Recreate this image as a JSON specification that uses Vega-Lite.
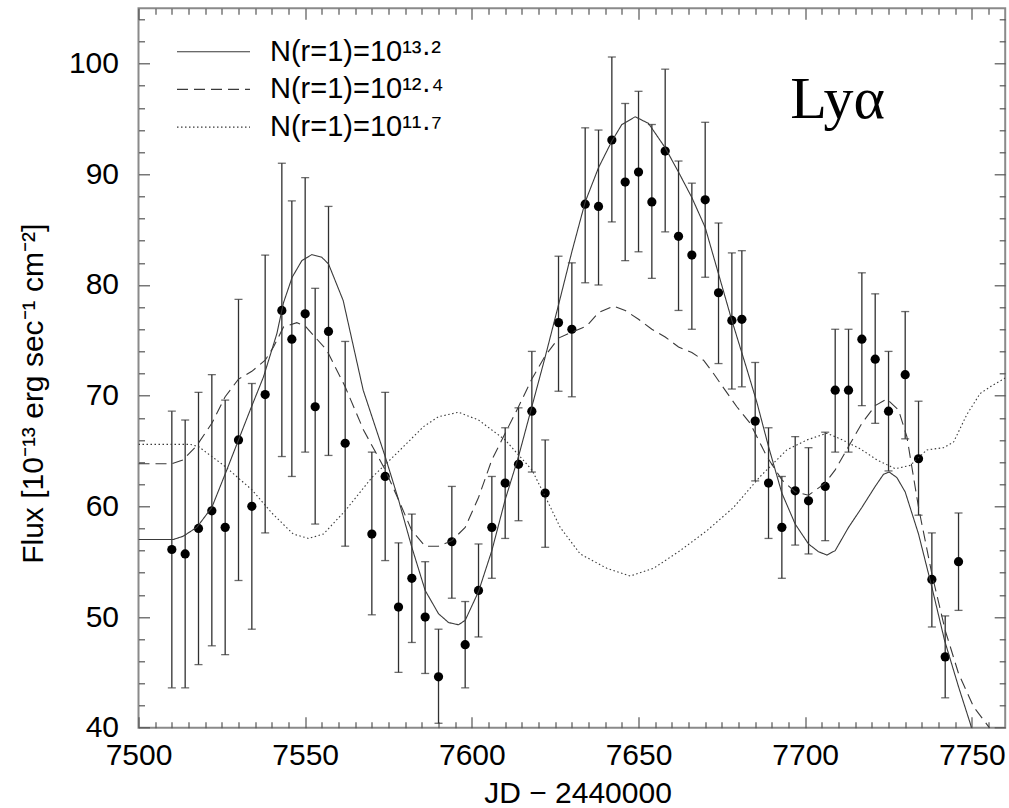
{
  "$schema": "https://vega.github.io/schema/vega-lite/v6.json",
  "autosize": {"type": "none"},
  "width": 866.7,
  "height": 719.4,
  "padding": {"left": 138.5, "top": 8.3, "right": 3.8, "bottom": 80.3},
  "background": "white",
  "config": {
    "font": "Liberation Sans",
    "view": {"stroke": "#8a8a8a", "strokeWidth": 2},
    "axis": {"grid": false, "domain": false, "tickColor": "#555555", "tickWidth": 1.2, "labelColor": "black", "labelFont": "Liberation Sans", "labelFontSize": 30, "titleFont": "Liberation Sans", "titleFontSize": 30, "titleFontWeight": "normal", "titleColor": "black"}
  },
  "datasets": {
    "obs": [
      {"x": 7510, "y": 56.1, "lo": 43.6, "hi": 68.6},
      {"x": 7514, "y": 55.7, "lo": 43.6, "hi": 67.8},
      {"x": 7518, "y": 58.0, "lo": 45.7, "hi": 70.3},
      {"x": 7522, "y": 59.6, "lo": 47.4, "hi": 71.9},
      {"x": 7526, "y": 58.1, "lo": 46.6, "hi": 69.6},
      {"x": 7530, "y": 66.0, "lo": 53.3, "hi": 78.7},
      {"x": 7534, "y": 60.0, "lo": 48.9, "hi": 71.1},
      {"x": 7538, "y": 70.1, "lo": 57.6, "hi": 82.7},
      {"x": 7543, "y": 77.7, "lo": 64.5, "hi": 91.0},
      {"x": 7546, "y": 75.1, "lo": 62.7, "hi": 87.6},
      {"x": 7550, "y": 77.4, "lo": 64.9, "hi": 89.7},
      {"x": 7553, "y": 69.0, "lo": 58.4, "hi": 79.7},
      {"x": 7557, "y": 75.8, "lo": 64.6, "hi": 87.1},
      {"x": 7562, "y": 65.7, "lo": 56.4, "hi": 74.9},
      {"x": 7570, "y": 57.5, "lo": 50.2, "hi": 64.9},
      {"x": 7574, "y": 62.7, "lo": 55.1, "hi": 70.3},
      {"x": 7578, "y": 50.9, "lo": 45.0, "hi": 56.7},
      {"x": 7582, "y": 53.5, "lo": 47.7, "hi": 59.3},
      {"x": 7586, "y": 50.0, "lo": 44.9, "hi": 55.0},
      {"x": 7590, "y": 44.6, "lo": 40.4, "hi": 48.9},
      {"x": 7594, "y": 56.8, "lo": 51.7, "hi": 61.8},
      {"x": 7598, "y": 47.5, "lo": 43.6, "hi": 51.4},
      {"x": 7602, "y": 52.4, "lo": 48.2, "hi": 56.6},
      {"x": 7606, "y": 58.1, "lo": 53.5, "hi": 62.7},
      {"x": 7610, "y": 62.1, "lo": 57.1, "hi": 67.1},
      {"x": 7614, "y": 63.8, "lo": 58.7, "hi": 68.9},
      {"x": 7618, "y": 68.6, "lo": 63.1, "hi": 74.0},
      {"x": 7622, "y": 61.2, "lo": 56.3, "hi": 66.0},
      {"x": 7626, "y": 76.6, "lo": 70.4, "hi": 82.6},
      {"x": 7630, "y": 76.0, "lo": 69.9, "hi": 82.0},
      {"x": 7634, "y": 87.3, "lo": 80.2, "hi": 94.2},
      {"x": 7638, "y": 87.1, "lo": 80.0, "hi": 94.0},
      {"x": 7642, "y": 93.1, "lo": 85.7, "hi": 100.6},
      {"x": 7646, "y": 89.3, "lo": 82.2, "hi": 96.4},
      {"x": 7650, "y": 90.2, "lo": 83.0, "hi": 97.5},
      {"x": 7654, "y": 87.5, "lo": 80.6, "hi": 94.5},
      {"x": 7658, "y": 92.1, "lo": 84.8, "hi": 99.5},
      {"x": 7662, "y": 84.4, "lo": 77.7, "hi": 91.2},
      {"x": 7666, "y": 82.7, "lo": 76.0, "hi": 89.2},
      {"x": 7670, "y": 87.7, "lo": 80.7, "hi": 94.7},
      {"x": 7674, "y": 79.3, "lo": 72.9, "hi": 85.6},
      {"x": 7678, "y": 76.8, "lo": 70.6, "hi": 82.9},
      {"x": 7681, "y": 76.9, "lo": 70.8, "hi": 83.1},
      {"x": 7685, "y": 67.7, "lo": 62.3, "hi": 73.0},
      {"x": 7689, "y": 62.1, "lo": 57.1, "hi": 67.1},
      {"x": 7693, "y": 58.1, "lo": 53.5, "hi": 62.7},
      {"x": 7697, "y": 61.4, "lo": 56.5, "hi": 66.3},
      {"x": 7701, "y": 60.5, "lo": 55.7, "hi": 65.3},
      {"x": 7706, "y": 61.8, "lo": 56.9, "hi": 66.7},
      {"x": 7709, "y": 70.5, "lo": 64.9, "hi": 76.0},
      {"x": 7713, "y": 70.5, "lo": 64.9, "hi": 76.0},
      {"x": 7717, "y": 75.1, "lo": 69.1, "hi": 81.1},
      {"x": 7721, "y": 73.3, "lo": 67.5, "hi": 79.2},
      {"x": 7725, "y": 68.6, "lo": 63.2, "hi": 74.0},
      {"x": 7730, "y": 71.9, "lo": 66.1, "hi": 77.6},
      {"x": 7734, "y": 64.3, "lo": 59.2, "hi": 69.5},
      {"x": 7738, "y": 53.4, "lo": 49.1, "hi": 57.6},
      {"x": 7742, "y": 46.4, "lo": 42.7, "hi": 50.1},
      {"x": 7746, "y": 55.0, "lo": 50.6, "hi": 59.4}
    ],
    "models": [
      {"s": "N(r=1)=10¹³·²", "x": 7500, "y": 57.0},
      {"s": "N(r=1)=10¹³·²", "x": 7510.4, "y": 57.0},
      {"s": "N(r=1)=10¹³·²", "x": 7513.4, "y": 57.3},
      {"s": "N(r=1)=10¹³·²", "x": 7517.5, "y": 58.1},
      {"s": "N(r=1)=10¹³·²", "x": 7522, "y": 59.9},
      {"s": "N(r=1)=10¹³·²", "x": 7526.5, "y": 63.3},
      {"s": "N(r=1)=10¹³·²", "x": 7530, "y": 66.0},
      {"s": "N(r=1)=10¹³·²", "x": 7533.5, "y": 68.7},
      {"s": "N(r=1)=10¹³·²", "x": 7537.5, "y": 71.7},
      {"s": "N(r=1)=10¹³·²", "x": 7541.5, "y": 75.6},
      {"s": "N(r=1)=10¹³·²", "x": 7543.5, "y": 78.4},
      {"s": "N(r=1)=10¹³·²", "x": 7546.1, "y": 80.7},
      {"s": "N(r=1)=10¹³·²", "x": 7549, "y": 82.2},
      {"s": "N(r=1)=10¹³·²", "x": 7552, "y": 82.75},
      {"s": "N(r=1)=10¹³·²", "x": 7555, "y": 82.5},
      {"s": "N(r=1)=10¹³·²", "x": 7557, "y": 81.9},
      {"s": "N(r=1)=10¹³·²", "x": 7561.4, "y": 78.6},
      {"s": "N(r=1)=10¹³·²", "x": 7567.4, "y": 70.5},
      {"s": "N(r=1)=10¹³·²", "x": 7574, "y": 64.5},
      {"s": "N(r=1)=10¹³·²", "x": 7578, "y": 60.6},
      {"s": "N(r=1)=10¹³·²", "x": 7582, "y": 56.3},
      {"s": "N(r=1)=10¹³·²", "x": 7586, "y": 52.4},
      {"s": "N(r=1)=10¹³·²", "x": 7590, "y": 50.3},
      {"s": "N(r=1)=10¹³·²", "x": 7593, "y": 49.5},
      {"s": "N(r=1)=10¹³·²", "x": 7596, "y": 49.3},
      {"s": "N(r=1)=10¹³·²", "x": 7598, "y": 49.7},
      {"s": "N(r=1)=10¹³·²", "x": 7602, "y": 52.3},
      {"s": "N(r=1)=10¹³·²", "x": 7606, "y": 56.0},
      {"s": "N(r=1)=10¹³·²", "x": 7610, "y": 60.6},
      {"s": "N(r=1)=10¹³·²", "x": 7614, "y": 64.5},
      {"s": "N(r=1)=10¹³·²", "x": 7618, "y": 69.0},
      {"s": "N(r=1)=10¹³·²", "x": 7622, "y": 73.5},
      {"s": "N(r=1)=10¹³·²", "x": 7626, "y": 78.2},
      {"s": "N(r=1)=10¹³·²", "x": 7630, "y": 83.0},
      {"s": "N(r=1)=10¹³·²", "x": 7634, "y": 87.5},
      {"s": "N(r=1)=10¹³·²", "x": 7638, "y": 90.6},
      {"s": "N(r=1)=10¹³·²", "x": 7642, "y": 93.0},
      {"s": "N(r=1)=10¹³·²", "x": 7645, "y": 94.5},
      {"s": "N(r=1)=10¹³·²", "x": 7649, "y": 95.2},
      {"s": "N(r=1)=10¹³·²", "x": 7653, "y": 94.6},
      {"s": "N(r=1)=10¹³·²", "x": 7658, "y": 92.4},
      {"s": "N(r=1)=10¹³·²", "x": 7662, "y": 90.2},
      {"s": "N(r=1)=10¹³·²", "x": 7666, "y": 87.9},
      {"s": "N(r=1)=10¹³·²", "x": 7670, "y": 85.2},
      {"s": "N(r=1)=10¹³·²", "x": 7674, "y": 81.0},
      {"s": "N(r=1)=10¹³·²", "x": 7678, "y": 76.8},
      {"s": "N(r=1)=10¹³·²", "x": 7682.5, "y": 72.4},
      {"s": "N(r=1)=10¹³·²", "x": 7685.5, "y": 69.4},
      {"s": "N(r=1)=10¹³·²", "x": 7689, "y": 65.4},
      {"s": "N(r=1)=10¹³·²", "x": 7693, "y": 61.2},
      {"s": "N(r=1)=10¹³·²", "x": 7697, "y": 58.4},
      {"s": "N(r=1)=10¹³·²", "x": 7701, "y": 56.6},
      {"s": "N(r=1)=10¹³·²", "x": 7704, "y": 55.9},
      {"s": "N(r=1)=10¹³·²", "x": 7706.5, "y": 55.6},
      {"s": "N(r=1)=10¹³·²", "x": 7709, "y": 56.0},
      {"s": "N(r=1)=10¹³·²", "x": 7713, "y": 58.1},
      {"s": "N(r=1)=10¹³·²", "x": 7717, "y": 59.9},
      {"s": "N(r=1)=10¹³·²", "x": 7721, "y": 61.8},
      {"s": "N(r=1)=10¹³·²", "x": 7723.5, "y": 62.9},
      {"s": "N(r=1)=10¹³·²", "x": 7725.2, "y": 63.1},
      {"s": "N(r=1)=10¹³·²", "x": 7727.5, "y": 62.6},
      {"s": "N(r=1)=10¹³·²", "x": 7730, "y": 61.3},
      {"s": "N(r=1)=10¹³·²", "x": 7734, "y": 57.5},
      {"s": "N(r=1)=10¹³·²", "x": 7738, "y": 52.7},
      {"s": "N(r=1)=10¹³·²", "x": 7741.8, "y": 47.9},
      {"s": "N(r=1)=10¹³·²", "x": 7746, "y": 43.7},
      {"s": "N(r=1)=10¹³·²", "x": 7749.5, "y": 40.4},
      {"s": "N(r=1)=10¹³·²", "x": 7751, "y": 38.8},
      {"s": "N(r=1)=10¹²·⁴", "x": 7500, "y": 63.85},
      {"s": "N(r=1)=10¹²·⁴", "x": 7510, "y": 63.85},
      {"s": "N(r=1)=10¹²·⁴", "x": 7513.4, "y": 64.2},
      {"s": "N(r=1)=10¹²·⁴", "x": 7517.5, "y": 65.5},
      {"s": "N(r=1)=10¹²·⁴", "x": 7522, "y": 67.5},
      {"s": "N(r=1)=10¹²·⁴", "x": 7526, "y": 69.9},
      {"s": "N(r=1)=10¹²·⁴", "x": 7530, "y": 71.5},
      {"s": "N(r=1)=10¹²·⁴", "x": 7534, "y": 72.2},
      {"s": "N(r=1)=10¹²·⁴", "x": 7538, "y": 73.2},
      {"s": "N(r=1)=10¹²·⁴", "x": 7540.5, "y": 74.4},
      {"s": "N(r=1)=10¹²·⁴", "x": 7543.5, "y": 76.2},
      {"s": "N(r=1)=10¹²·⁴", "x": 7547.5, "y": 76.6},
      {"s": "N(r=1)=10¹²·⁴", "x": 7550, "y": 76.3},
      {"s": "N(r=1)=10¹²·⁴", "x": 7556.5, "y": 74.1},
      {"s": "N(r=1)=10¹²·⁴", "x": 7562, "y": 70.8},
      {"s": "N(r=1)=10¹²·⁴", "x": 7567.5, "y": 66.9},
      {"s": "N(r=1)=10¹²·⁴", "x": 7574, "y": 63.3},
      {"s": "N(r=1)=10¹²·⁴", "x": 7578, "y": 60.6},
      {"s": "N(r=1)=10¹²·⁴", "x": 7582, "y": 57.8},
      {"s": "N(r=1)=10¹²·⁴", "x": 7586, "y": 56.4},
      {"s": "N(r=1)=10¹²·⁴", "x": 7590, "y": 56.4},
      {"s": "N(r=1)=10¹²·⁴", "x": 7594, "y": 56.9},
      {"s": "N(r=1)=10¹²·⁴", "x": 7598, "y": 58.1},
      {"s": "N(r=1)=10¹²·⁴", "x": 7602, "y": 60.8},
      {"s": "N(r=1)=10¹²·⁴", "x": 7606, "y": 64.2},
      {"s": "N(r=1)=10¹²·⁴", "x": 7610, "y": 66.6},
      {"s": "N(r=1)=10¹²·⁴", "x": 7614, "y": 69.0},
      {"s": "N(r=1)=10¹²·⁴", "x": 7618, "y": 71.5},
      {"s": "N(r=1)=10¹²·⁴", "x": 7622, "y": 73.6},
      {"s": "N(r=1)=10¹²·⁴", "x": 7626, "y": 75.2},
      {"s": "N(r=1)=10¹²·⁴", "x": 7630.5, "y": 75.8},
      {"s": "N(r=1)=10¹²·⁴", "x": 7634.5, "y": 76.3},
      {"s": "N(r=1)=10¹²·⁴", "x": 7638, "y": 77.5},
      {"s": "N(r=1)=10¹²·⁴", "x": 7642.5, "y": 78.1},
      {"s": "N(r=1)=10¹²·⁴", "x": 7646, "y": 77.7},
      {"s": "N(r=1)=10¹²·⁴", "x": 7650, "y": 76.9},
      {"s": "N(r=1)=10¹²·⁴", "x": 7654, "y": 76.0},
      {"s": "N(r=1)=10¹²·⁴", "x": 7658, "y": 75.3},
      {"s": "N(r=1)=10¹²·⁴", "x": 7662, "y": 74.4},
      {"s": "N(r=1)=10¹²·⁴", "x": 7666, "y": 73.9},
      {"s": "N(r=1)=10¹²·⁴", "x": 7669.5, "y": 73.2},
      {"s": "N(r=1)=10¹²·⁴", "x": 7672.5, "y": 72.0},
      {"s": "N(r=1)=10¹²·⁴", "x": 7675.5, "y": 70.7},
      {"s": "N(r=1)=10¹²·⁴", "x": 7679.5, "y": 69.0},
      {"s": "N(r=1)=10¹²·⁴", "x": 7683.5, "y": 67.5},
      {"s": "N(r=1)=10¹²·⁴", "x": 7688.5, "y": 64.5},
      {"s": "N(r=1)=10¹²·⁴", "x": 7693, "y": 62.4},
      {"s": "N(r=1)=10¹²·⁴", "x": 7697, "y": 61.3},
      {"s": "N(r=1)=10¹²·⁴", "x": 7701, "y": 61.0},
      {"s": "N(r=1)=10¹²·⁴", "x": 7706, "y": 62.1},
      {"s": "N(r=1)=10¹²·⁴", "x": 7709, "y": 63.3},
      {"s": "N(r=1)=10¹²·⁴", "x": 7713, "y": 65.4},
      {"s": "N(r=1)=10¹²·⁴", "x": 7717, "y": 67.5},
      {"s": "N(r=1)=10¹²·⁴", "x": 7721, "y": 69.1},
      {"s": "N(r=1)=10¹²·⁴", "x": 7724.5, "y": 69.7},
      {"s": "N(r=1)=10¹²·⁴", "x": 7728, "y": 68.7},
      {"s": "N(r=1)=10¹²·⁴", "x": 7730.5, "y": 66.3},
      {"s": "N(r=1)=10¹²·⁴", "x": 7734, "y": 59.9},
      {"s": "N(r=1)=10¹²·⁴", "x": 7738, "y": 53.9},
      {"s": "N(r=1)=10¹²·⁴", "x": 7742, "y": 48.8},
      {"s": "N(r=1)=10¹²·⁴", "x": 7746, "y": 44.9},
      {"s": "N(r=1)=10¹²·⁴", "x": 7750.5, "y": 41.9},
      {"s": "N(r=1)=10¹²·⁴", "x": 7755, "y": 40.1},
      {"s": "N(r=1)=10¹²·⁴", "x": 7757, "y": 39.3},
      {"s": "N(r=1)=10¹¹·⁷", "x": 7500, "y": 65.6},
      {"s": "N(r=1)=10¹¹·⁷", "x": 7515.5, "y": 65.6},
      {"s": "N(r=1)=10¹¹·⁷", "x": 7518, "y": 65.4},
      {"s": "N(r=1)=10¹¹·⁷", "x": 7526, "y": 63.6},
      {"s": "N(r=1)=10¹¹·⁷", "x": 7534, "y": 61.5},
      {"s": "N(r=1)=10¹¹·⁷", "x": 7540, "y": 59.4},
      {"s": "N(r=1)=10¹¹·⁷", "x": 7546.4, "y": 57.5},
      {"s": "N(r=1)=10¹¹·⁷", "x": 7551, "y": 57.1},
      {"s": "N(r=1)=10¹¹·⁷", "x": 7555.5, "y": 57.5},
      {"s": "N(r=1)=10¹¹·⁷", "x": 7562, "y": 59.6},
      {"s": "N(r=1)=10¹¹·⁷", "x": 7570, "y": 62.6},
      {"s": "N(r=1)=10¹¹·⁷", "x": 7577.5, "y": 64.8},
      {"s": "N(r=1)=10¹¹·⁷", "x": 7585.5, "y": 67.2},
      {"s": "N(r=1)=10¹¹·⁷", "x": 7590, "y": 68.1},
      {"s": "N(r=1)=10¹¹·⁷", "x": 7596, "y": 68.5},
      {"s": "N(r=1)=10¹¹·⁷", "x": 7602, "y": 67.8},
      {"s": "N(r=1)=10¹¹·⁷", "x": 7610, "y": 66.0},
      {"s": "N(r=1)=10¹¹·⁷", "x": 7618, "y": 63.3},
      {"s": "N(r=1)=10¹¹·⁷", "x": 7622, "y": 60.9},
      {"s": "N(r=1)=10¹¹·⁷", "x": 7626.5, "y": 58.1},
      {"s": "N(r=1)=10¹¹·⁷", "x": 7632.5, "y": 55.7},
      {"s": "N(r=1)=10¹¹·⁷", "x": 7640.5, "y": 54.4},
      {"s": "N(r=1)=10¹¹·⁷", "x": 7647.5, "y": 53.7},
      {"s": "N(r=1)=10¹¹·⁷", "x": 7654.5, "y": 54.4},
      {"s": "N(r=1)=10¹¹·⁷", "x": 7662.5, "y": 56.0},
      {"s": "N(r=1)=10¹¹·⁷", "x": 7670.5, "y": 57.8},
      {"s": "N(r=1)=10¹¹·⁷", "x": 7678.5, "y": 59.9},
      {"s": "N(r=1)=10¹¹·⁷", "x": 7686.5, "y": 62.7},
      {"s": "N(r=1)=10¹¹·⁷", "x": 7694.5, "y": 65.1},
      {"s": "N(r=1)=10¹¹·⁷", "x": 7700.5, "y": 66.0},
      {"s": "N(r=1)=10¹¹·⁷", "x": 7706.5, "y": 66.6},
      {"s": "N(r=1)=10¹¹·⁷", "x": 7710.5, "y": 66.1},
      {"s": "N(r=1)=10¹¹·⁷", "x": 7716.5, "y": 65.2},
      {"s": "N(r=1)=10¹¹·⁷", "x": 7721.5, "y": 64.2},
      {"s": "N(r=1)=10¹¹·⁷", "x": 7727, "y": 63.4},
      {"s": "N(r=1)=10¹¹·⁷", "x": 7731.5, "y": 63.7},
      {"s": "N(r=1)=10¹¹·⁷", "x": 7736.5, "y": 65.1},
      {"s": "N(r=1)=10¹¹·⁷", "x": 7741.5, "y": 65.3},
      {"s": "N(r=1)=10¹¹·⁷", "x": 7744.5, "y": 65.8},
      {"s": "N(r=1)=10¹¹·⁷", "x": 7748.5, "y": 68.3},
      {"s": "N(r=1)=10¹¹·⁷", "x": 7752.5, "y": 70.2},
      {"s": "N(r=1)=10¹¹·⁷", "x": 7756, "y": 70.9},
      {"s": "N(r=1)=10¹¹·⁷", "x": 7760, "y": 71.6}
    ],
    "note": [{"label": "Lyα"}]
  },
  "resolve": {"axis": {"x": "independent", "y": "independent"}},
  "layer": [
    {
      "data": {"name": "obs"},
      "mark": {"type": "rule", "color": "#303030", "strokeWidth": 1.3},
      "encoding": {
        "x": {"field": "x", "type": "quantitative", "scale": {"domain": [7500, 7760], "nice": false, "zero": false},
          "axis": {"orient": "bottom", "values": [7500, 7550, 7600, 7650, 7700, 7750], "format": "d", "ticks": false, "labelPadding": 13, "labelFlush": false, "labelOverlap": false, "title": "JD − 2440000", "titleX": 439, "titleY": 74.5, "titleAlign": "center", "titleBaseline": "alphabetic"}},
        "y": {"field": "lo", "type": "quantitative", "scale": {"domain": [40, 105], "nice": false, "zero": false},
          "axis": {"orient": "left", "values": [40, 50, 60, 70, 80, 90, 100], "format": "d", "ticks": false, "labelPadding": 20, "labelFlush": false, "labelOverlap": false, "title": "Flux [10⁻¹³ erg sec⁻¹ cm⁻²]", "titleAngle": 270, "titleX": -96, "titleY": 385, "titleAlign": "center", "titleBaseline": "alphabetic"}},
        "y2": {"field": "hi"}
      }
    },
    {
      "data": {"name": "obs"},
      "mark": {"type": "tick", "orient": "horizontal", "color": "#303030", "size": 8, "thickness": 1.3},
      "encoding": {
        "x": {"field": "x", "type": "quantitative", "axis": {"orient": "bottom", "values": [7500, 7550, 7600, 7650, 7700, 7750], "labels": false, "offset": -11, "tickSize": 11, "title": null}},
        "y": {"field": "lo", "type": "quantitative", "axis": {"orient": "left", "values": [40, 50, 60, 70, 80, 90, 100], "labels": false, "offset": -11, "tickSize": 11, "title": null}}
      }
    },
    {
      "data": {"name": "obs"},
      "mark": {"type": "tick", "orient": "horizontal", "color": "#303030", "size": 8, "thickness": 1.3},
      "encoding": {
        "x": {"field": "x", "type": "quantitative", "axis": {"orient": "bottom", "values": [7505, 7510, 7515, 7520, 7525, 7530, 7535, 7540, 7545, 7555, 7560, 7565, 7570, 7575, 7580, 7585, 7590, 7595, 7605, 7610, 7615, 7620, 7625, 7630, 7635, 7640, 7645, 7655, 7660, 7665, 7670, 7675, 7680, 7685, 7690, 7695, 7705, 7710, 7715, 7720, 7725, 7730, 7735, 7740, 7745, 7755], "labels": false, "offset": -6, "tickSize": 6, "title": null}},
        "y": {"field": "hi", "type": "quantitative", "axis": {"orient": "left", "values": [42, 44, 46, 48, 52, 54, 56, 58, 62, 64, 66, 68, 72, 74, 76, 78, 82, 84, 86, 88, 92, 94, 96, 98, 102, 104], "labels": false, "offset": -6, "tickSize": 6, "title": null}}
      }
    },
    {
      "data": {"name": "obs"},
      "mark": {"type": "circle", "color": "black", "opacity": 1, "size": 85},
      "encoding": {
        "x": {"field": "x", "type": "quantitative", "axis": {"orient": "top", "values": [7500, 7550, 7600, 7650, 7700, 7750], "labels": false, "offset": -11, "tickSize": 11, "title": null}},
        "y": {"field": "y", "type": "quantitative", "axis": {"orient": "right", "values": [40, 50, 60, 70, 80, 90, 100], "labels": false, "offset": -11, "tickSize": 11, "title": null}}
      }
    },
    {
      "data": {"name": "models"},
      "mark": {"type": "line", "color": "#3a3a3a", "strokeWidth": 1.1, "clip": true},
      "encoding": {
        "x": {"field": "x", "type": "quantitative", "axis": {"orient": "top", "values": [7505, 7510, 7515, 7520, 7525, 7530, 7535, 7540, 7545, 7555, 7560, 7565, 7570, 7575, 7580, 7585, 7590, 7595, 7605, 7610, 7615, 7620, 7625, 7630, 7635, 7640, 7645, 7655, 7660, 7665, 7670, 7675, 7680, 7685, 7690, 7695, 7705, 7710, 7715, 7720, 7725, 7730, 7735, 7740, 7745, 7755], "labels": false, "offset": -6, "tickSize": 6, "title": null}},
        "y": {"field": "y", "type": "quantitative", "axis": {"orient": "right", "values": [42, 44, 46, 48, 52, 54, 56, 58, 62, 64, 66, 68, 72, 74, 76, 78, 82, 84, 86, 88, 92, 94, 96, 98, 102, 104], "labels": false, "offset": -6, "tickSize": 6, "title": null}},
        "strokeDash": {"field": "s", "type": "nominal",
          "scale": {"domain": ["N(r=1)=10¹³·²", "N(r=1)=10¹²·⁴", "N(r=1)=10¹¹·⁷"], "range": [[1, 0], [11, 6], [1.5, 2.5]]},
          "legend": {"title": null, "orient": "none", "legendX": 37.5, "legendY": 28.4, "symbolType": "stroke", "symbolSize": 5329, "clipHeight": 30, "symbolStrokeWidth": 1.1, "symbolStrokeColor": "#3a3a3a", "labelFont": "Liberation Sans", "labelFontSize": 29, "labelColor": "black", "labelOffset": 19, "labelLimit": 400, "rowPadding": 7.7, "padding": 0}}
      }
    },
    {
      "data": {"name": "note"},
      "mark": {"type": "text", "font": "Liberation Serif", "fontSize": 60, "align": "left", "baseline": "alphabetic", "color": "black"},
      "encoding": {
        "x": {"datum": 7695.5, "type": "quantitative", "axis": null},
        "y": {"datum": 95.1, "type": "quantitative", "axis": null},
        "text": {"field": "label"}
      }
    }
  ]
}
